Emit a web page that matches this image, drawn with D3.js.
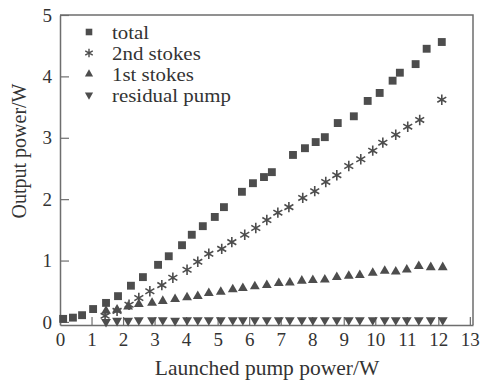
<!DOCTYPE html>
<html>
<head>
<meta charset="utf-8">
<script src="https://cdn.jsdelivr.net/npm/d3@7"></script>
</head>
<body style="margin:0">
<script>
  //Data (x = launched pump power, W)
  let totalX = [0.1, 0.41, 0.7, 1.05, 1.46, 1.84, 2.25, 2.63, 3.11, 3.45, 3.87, 4.18, 4.53, 4.91, 5.2, 5.77, 6.12, 6.47, 6.72, 7.39, 7.77, 8.11, 8.4, 8.81, 9.32, 9.76, 10.14, 10.55, 10.78, 11.28, 11.63, 12.11];
  let totalY = [0.05, 0.07, 0.11, 0.21, 0.31, 0.42, 0.59, 0.73, 0.93, 1.07, 1.25, 1.42, 1.56, 1.71, 1.87, 2.12, 2.26, 2.36, 2.44, 2.72, 2.83, 2.93, 3.01, 3.24, 3.35, 3.6, 3.73, 3.93, 4.06, 4.2, 4.45, 4.56];

  let stokes2X = [1.43, 1.81, 2.19, 2.5, 2.85, 3.23, 3.58, 4.03, 4.37, 4.72, 5.13, 5.45, 5.86, 6.21, 6.56, 6.91, 7.26, 7.7, 8.08, 8.43, 8.78, 9.16, 9.54, 9.92, 10.24, 10.65, 11.03, 11.41, 12.11];
  let stokes2Y = [0.1, 0.18, 0.28, 0.39, 0.5, 0.6, 0.72, 0.85, 0.98, 1.11, 1.19, 1.3, 1.42, 1.53, 1.66, 1.78, 1.87, 2.02, 2.13, 2.28, 2.39, 2.54, 2.65, 2.79, 2.92, 3.05, 3.18, 3.29, 3.62];

  let stokes1X = [1.46, 1.81, 2.16, 2.5, 2.92, 3.26, 3.65, 4.03, 4.37, 4.72, 5.1, 5.48, 5.8, 6.18, 6.56, 6.94, 7.29, 7.67, 8.02, 8.4, 8.78, 9.16, 9.51, 9.92, 10.3, 10.65, 11.0, 11.38, 11.76, 12.14];
  let stokes1Y = [0.18, 0.2, 0.25, 0.29, 0.31, 0.34, 0.37, 0.4, 0.42, 0.47, 0.49, 0.53, 0.55, 0.58, 0.6, 0.63, 0.64, 0.67, 0.68, 0.69, 0.73, 0.75, 0.76, 0.8, 0.83, 0.82, 0.85, 0.91, 0.89, 0.89];

  let residualX = [1.46, 1.81, 2.16, 2.5, 2.92, 3.26, 3.65, 4.03, 4.37, 4.72, 5.1, 5.48, 5.8, 6.18, 6.56, 6.94, 7.29, 7.67, 8.02, 8.4, 8.78, 9.16, 9.51, 9.92, 10.3, 10.65, 11.0, 11.38, 11.76, 12.14];
  let residualY = [0.0, 0.02, 0.02, 0.03, 0.03, 0.03, 0.02, 0.03, 0.03, 0.03, 0.03, 0.03, 0.03, 0.03, 0.03, 0.03, 0.03, 0.03, 0.03, 0.03, 0.03, 0.03, 0.03, 0.03, 0.03, 0.03, 0.03, 0.03, 0.03, 0.03];

  let seriesNames = ["total", "2nd stokes", "1st stokes", "residual pump"];
  let xTicks = [0, 1, 2, 3, 4, 5, 6, 7, 8, 9, 10, 11, 12, 13];
  let yTicks = [0, 1, 2, 3, 4, 5];

  let width = 486, height = 380;
  let margin = {top: 15, right: 13, bottom: 55, left: 60};
  let markColor = "#4d4d4d";
  let axisColor = "#6e6e6e";
  let fontName = "'Liberation Serif'";

  let svg = d3.select("body").append("svg")
    .attr("width", width)
    .attr("height", height);

  let x = d3.scaleLinear().domain([0, 13.1]).range([margin.left, width - margin.right]);
  let y = d3.scaleLinear().domain([-0.05, 5]).range([height - margin.bottom, margin.top]);

  //Symbols for each series
  let shapes = [
    {type: d3.symbolSquare, size: 62, rot: 0, fill: true},
    {type: d3.symbolAsterisk, size: 75, rot: 0, fill: false},
    {type: d3.symbolTriangle, size: 42, rot: 0, fill: true},
    {type: d3.symbolTriangle, size: 42, rot: 180, fill: true}
  ];

  let series = [
    d3.zip(totalX, totalY),
    d3.zip(stokes2X, stokes2Y),
    d3.zip(stokes1X, stokes1Y),
    d3.zip(residualX, residualY)
  ];

  //Bottom axis - ticks pointing in
  let xAxis = svg.append("g")
    .attr("transform", "translate(0," + y.range()[0] + ")")
    .call(d3.axisBottom(x).tickValues(xTicks).tickFormat(d3.format("d")).tickSizeInner(-8).tickSizeOuter(0).tickPadding(8));
  xAxis.attr("font-family", null).attr("font-size", null);
  xAxis.select(".domain").attr("stroke", axisColor).attr("stroke-width", 1.5);
  xAxis.selectAll(".tick line").attr("stroke", axisColor).attr("stroke-width", 1.2);
  xAxis.selectAll(".tick text").style("font-family", fontName).style("font-size", "19px").attr("fill", "#333");

  //Left axis
  let yAxis = svg.append("g")
    .attr("transform", "translate(" + margin.left + ",0)")
    .call(d3.axisLeft(y).tickValues(yTicks).tickFormat(d3.format("d")).tickSizeInner(-9).tickSizeOuter(0).tickPadding(8));
  yAxis.attr("font-family", null).attr("font-size", null);
  yAxis.select(".domain").attr("stroke", axisColor).attr("stroke-width", 1.5);
  yAxis.selectAll(".tick line").attr("stroke", axisColor).attr("stroke-width", 1.2);
  yAxis.selectAll(".tick text").style("font-family", fontName).style("font-size", "19px").attr("fill", "#333");

  //Top and right frame
  svg.append("path")
    .attr("fill", "none")
    .attr("stroke", axisColor)
    .attr("stroke-width", 1.5)
    .attr("d", "M" + x.range()[0] + "," + y.range()[1] + "H" + x.range()[1] + "V" + y.range()[0]);

  //Draw the points
  series.forEach(function(pts, i) {
    let s = shapes[i];
    let sym = d3.symbol().type(s.type).size(s.size);
    svg.append("g").selectAll("path")
      .data(pts)
      .enter()
      .append("path")
        .attr("d", sym)
        .attr("transform", function(d) { return "translate(" + x(d[0]) + "," + y(d[1]) + ") rotate(" + s.rot + ")"; })
        .attr("fill", s.fill ? markColor : "none")
        .attr("stroke", s.fill ? "none" : markColor)
        .attr("stroke-width", s.fill ? 0 : 1.6);
  });

  //Legend - text a bit wide like the scan, so stretch it horizontally
  let legend = svg.append("g").attr("transform", "translate(89,32)");
  seriesNames.forEach(function(name, i) {
    let s = shapes[i];
    let row = legend.append("g").attr("transform", "translate(0," + (i * 21) + ")");
    row.append("path")
      .attr("d", d3.symbol().type(s.type).size(s.size * 0.7))
      .attr("transform", "rotate(" + s.rot + ")")
      .attr("fill", s.fill ? markColor : "none")
      .attr("stroke", s.fill ? "none" : markColor)
      .attr("stroke-width", s.fill ? 0 : 1.4);
    row.append("text")
      .attr("transform", "translate(23,6.5) scale(1.13,1)")
      .style("font-family", fontName)
      .style("font-size", "18.5px")
      .attr("fill", "#333")
      .text(name);
  });

  //Axis titles
  svg.append("text")
    .attr("x", 267)
    .attr("y", 375)
    .attr("text-anchor", "middle")
    .style("font-family", fontName)
    .style("font-size", "21.5px")
    .attr("fill", "#333")
    .text("Launched pump power/W");

  svg.append("text")
    .attr("transform", "translate(26,151) rotate(-90)")
    .attr("text-anchor", "middle")
    .style("font-family", fontName)
    .style("font-size", "20px")
    .attr("fill", "#333")
    .text("Output power/W");
</script>
</body>
</html>
